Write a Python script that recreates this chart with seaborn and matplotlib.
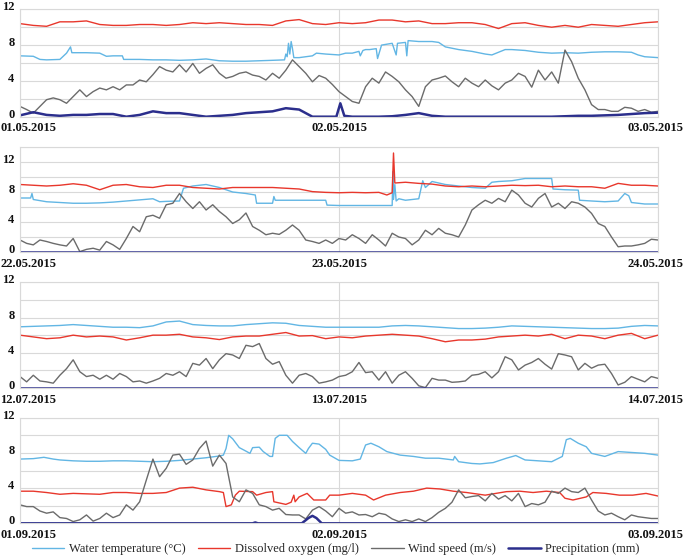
import numpy as np
import matplotlib
matplotlib.use('Agg')
import matplotlib.pyplot as plt
import matplotlib.transforms as mtransforms
from matplotlib.lines import Line2D
import seaborn as sns

# --- datos (horas desde el inicio de cada periodo) ---
dates1 = ['01.05.2015', '02.05.2015', '03.05.2015']
dates2 = ['22.05.2015', '23.05.2015', '24.05.2015']
dates3 = ['12.07.2015', '13.07.2015', '14.07.2015']
dates4 = ['01.09.2015', '02.09.2015', '03.09.2015']

# periodo 1
temp1_h = [0, 1, 1.5, 2, 3, 3.5, 3.8, 3.9, 5, 6, 6.5, 7, 7.7, 7.8, 9, 10, 11, 12, 13, 14,
           15, 16, 17, 18, 19, 19.9, 20.0, 20.1, 20.2, 20.3, 20.4, 20.5, 20.6, 21, 22, 22.3, 23, 24, 24.5, 25,
           25.5, 25.6, 25.8, 26, 26.3, 26.8, 26.9, 27.2, 28, 28.3, 28.4, 29, 29.1, 29.2, 30, 31, 31.5, 32, 33, 34,
           35, 35.5, 36, 36.5, 37, 38, 39, 40, 41, 42, 43, 44, 45, 46, 46.5, 47, 48]
temp1_v = [6.8, 6.75, 6.4, 6.35, 6.4, 7.1, 7.8, 7.15, 7.15, 7.1, 6.75, 6.8, 6.8, 6.4, 6.4, 6.35, 6.35, 6.3, 6.35, 6.45,
           6.25, 6.2, 6.2, 6.25, 6.3, 6.35, 7.0, 6.7, 8.2, 7.0, 8.4, 7.6, 6.6, 6.6, 6.8, 7.1, 7.0, 6.9, 7.1, 7.1,
           7.3, 6.8, 7.4, 7.5, 7.5, 7.6, 6.5, 8.0, 8.2, 6.9, 8.2, 8.3, 6.8, 8.5, 8.4, 8.4, 8.3, 7.8, 7.5, 7.3,
           7.0, 6.9, 7.2, 7.5, 7.5, 7.4, 7.2, 7.1, 7.15, 7.1, 7.2, 7.25, 7.25, 7.2, 6.9, 6.7, 6.6]
oxy1 = [10.4, 10.2, 10.1, 10.6, 10.6, 10.7, 10.3, 10.2, 10.2, 10.3, 10.3, 10.2, 10.3, 10.5, 10.4, 10.5, 10.4,
        10.3, 10.3, 10.2, 10.7, 10.85, 10.4, 10.3, 10.5, 10.4, 10.5, 10.8, 10.8, 10.6, 10.7, 10.4, 10.4, 10.5,
        10.5, 10.3, 9.85, 10.4, 10.5, 10.2, 10.0, 10.2, 10.0, 10.3, 10.2, 10.1, 10.3, 10.5, 10.6]
wind1 = [1.15, 0.8, 0.4, 1.15, 1.9, 2.1, 1.9, 1.5, 2.25, 3.0, 2.25, 2.8, 3.2, 3.0, 3.35, 3.0, 3.55, 3.55, 4.1, 3.9,
         4.7, 5.6, 5.2, 5.0, 5.8, 5.0, 5.95, 4.85, 5.4, 5.8, 4.85, 4.3, 4.5, 4.85, 5.0, 4.65, 4.5, 4.1, 4.85, 4.3,
         5.2, 6.35, 5.6, 4.85, 3.9, 4.6, 4.3, 3.6, 2.8,
         2.25, 1.7, 1.5, 3.35, 4.3, 3.75, 5.0, 4.5, 3.9, 3.0, 2.25, 1.15, 3.35, 4.1, 4.3, 4.55, 3.9, 3.35, 4.3,
         3.75, 3.35, 4.1, 3.45, 3.0, 3.75, 4.1, 4.85, 4.5, 3.3, 5.2, 4.1, 5.0, 3.75, 7.45, 6.15, 4.3, 3.0, 1.35,
         0.8, 0.8, 0.6, 0.6, 1.05, 0.95, 0.6, 0.8, 0.5, 0.6]
rain1_h = [0, 1, 2, 3, 4, 5, 6, 7, 8, 9, 10, 11, 12, 13, 14, 15, 16, 17, 18, 19, 20, 21, 22, 23,
           23.8, 24.1, 24.4,
           25, 26, 27, 28, 29, 30, 31, 32, 33, 34, 35, 36, 37, 38, 39, 40, 41, 42, 43, 44, 45, 46, 47, 48]
rain1_v = [0.15, 0.5, 0.2, 0.1, 0.2, 0.2, 0.3, 0.3, 0.0, 0.2, 0.6, 0.4, 0.4, 0.2, 0.0, 0.1, 0.2, 0.4, 0.5, 0.6,
           0.95, 0.8, 0.0, 0.0,
           0.0, 1.5, 0.1,
           0.0, 0.0, 0.0, 0.05, 0.2, 0.4, 0.1, 0.0, 0.0, 0.0, 0.0, 0.0, 0.0, 0.0, 0.0, 0.0, 0.05, 0.1, 0.1, 0.15,
           0.2, 0.3, 0.4, 0.45]

# periodo 2
temp2_h = [0, 0.8, 0.9, 1, 2, 3, 4, 5, 6, 7, 8, 9, 10, 10.5, 11, 12, 12.3, 13, 14, 15,
           16, 17, 17.7, 17.8, 19, 19.1, 19.2, 20, 21, 22, 23, 23.1, 24, 25, 26, 27, 28, 28.05, 28.1, 28.2,
           28.3, 28.5, 29, 29.5, 30, 30.3, 30.5, 31, 32, 33, 34, 35, 35.5, 36, 37, 38, 39, 40, 40.1, 41,
           42, 42.1, 43, 44, 45, 45.5, 45.8, 46, 47, 48]
temp2_v = [7.2, 7.2, 7.8, 7.0, 6.7, 6.6, 6.5, 6.5, 6.55, 6.65, 6.8, 6.95, 7.1, 6.7, 6.75, 6.8, 8.5, 8.8, 9.0, 8.6,
           8.0, 7.8, 7.6, 6.5, 6.5, 7.4, 6.9, 6.9, 6.9, 6.9, 6.9, 6.25, 6.2, 6.2, 6.2, 6.2, 6.2, 10.7, 7.0, 9.0,
           6.8, 7.1, 6.9, 7.0, 7.1, 9.5, 8.6, 9.4, 9.0, 8.8, 8.6, 8.5, 9.3, 9.4, 9.5, 9.8, 9.8, 9.8, 8.4, 8.3,
           8.25, 6.9, 6.8, 6.7, 6.8, 7.8, 7.5, 6.6, 6.4, 6.4]
oxy2_h = [0, 1, 2, 3, 4, 5, 6, 7, 8, 9, 10, 11, 12, 13, 14, 15, 16, 17, 18, 19, 20, 21, 22, 23, 24, 25, 26, 27,
          27.6, 28, 28.1, 28.2,
          29, 30, 31, 32, 33, 34, 35, 36, 37, 38, 39, 40, 41, 42, 43, 44, 45, 46, 47, 48]
oxy2_v = [9.0, 8.9, 8.8, 8.9, 9.1, 8.9, 8.3, 8.9, 9.0, 8.7, 8.6, 8.9, 8.9, 8.6, 8.5, 8.4, 8.6, 8.6, 8.6, 8.6,
          8.5, 8.4, 8.05, 7.95, 7.9, 7.95, 7.9, 7.95,
          7.6, 7.9, 13.2, 9.2,
          9.3, 9.15, 9.05, 8.8, 8.7, 8.8, 8.7, 8.8, 8.9, 8.85, 8.9, 8.7, 8.8, 8.7, 8.7, 8.5, 9.15, 8.9, 8.9, 8.8]
wind2 = [1.6, 1.15, 0.95, 1.6, 1.4, 1.15, 0.95, 0.8, 1.8, 0.05, 0.35, 0.5, 0.25, 1.4, 0.95, 0.35, 1.8, 3.4,
         2.7, 4.7, 4.9, 4.5, 6.3, 6.5, 7.8, 6.7, 5.8, 6.7, 5.6, 6.3, 5.4, 4.7, 3.8, 4.3, 5.2, 3.4, 2.9, 2.3,
         2.5, 2.35, 2.9, 3.6, 2.9, 1.6, 1.4, 1.15, 1.6, 1.15, 1.8,
         1.6, 2.3, 1.8, 1.15, 2.3, 1.6, 0.8, 2.5, 2.0, 1.8, 0.95, 1.6, 2.9, 2.3, 3.15, 2.5, 2.3, 2.0, 3.6, 5.6,
         6.3, 6.9, 6.5, 7.15, 6.7, 8.25, 7.6, 6.5, 6.0, 7.15, 7.8, 6.0, 6.5, 5.8, 6.7, 6.5, 6.0, 5.15, 3.8,
         3.4, 2.0, 0.7, 0.8, 0.8, 0.95, 1.15, 1.7, 1.6]
rain2_h = [0, 48]
rain2_v = [0.0, 0.0]

# periodo 3
temp3 = [6.95, 7.0, 7.05, 7.1, 7.2, 7.1, 7.0, 6.9, 6.9, 6.85, 7.05, 7.5, 7.6, 7.2, 7.1, 7.05, 7.05, 7.2,
         7.3, 7.4, 7.35, 7.1, 7.0, 6.9, 6.9, 6.9, 6.9, 6.9, 7.05, 7.1, 7.05, 6.95, 6.85, 6.75, 6.75, 6.8,
         6.9, 7.05, 7.0, 6.95, 6.9, 6.85, 6.8, 6.75, 6.75, 6.8, 7.0, 7.1, 7.05]
oxy3 = [6.0, 5.8, 5.6, 5.7, 6.0, 5.8, 5.9, 5.8, 5.45, 5.7, 6.0, 6.0, 6.1, 5.8, 5.7, 5.5, 5.8, 5.9, 5.9, 6.1,
        6.3, 5.9, 5.95, 5.6, 5.8, 5.7, 5.9, 6.0, 6.1, 6.0, 5.9, 5.6, 5.25, 5.45, 5.45, 5.55, 5.8, 5.9, 6.0,
        5.9, 6.1, 5.6, 6.0, 5.9, 5.6, 6.0, 6.2, 5.6, 6.0]
wind3 = [1.3, 0.7, 1.45, 0.8, 0.7, 0.55, 1.45, 2.2, 3.2, 1.85, 1.3, 1.45, 1.0, 1.45, 1.0, 1.65, 1.3, 0.7,
         0.8, 0.55, 0.8, 1.1, 1.65, 1.45, 1.85, 1.3, 2.8, 2.6, 3.35, 2.2, 3.2, 3.9, 3.75, 3.35, 4.85, 4.7,
         5.05, 3.35, 2.7, 3.0, 1.45, 0.55, 1.45, 1.65, 1.3, 0.55, 0.7, 0.9, 1.3,
         1.45, 1.85, 2.9, 1.75, 1.85, 0.9, 1.85, 0.55, 1.45, 1.85, 1.1, 0.25, 0.05, 1.1, 0.9, 0.9, 0.65, 0.7,
         0.8, 1.45, 1.55, 1.85, 1.15, 1.85, 3.55, 3.2, 2.05, 2.6, 2.9, 3.35, 2.7, 2.15, 3.9, 3.75, 3.55, 2.05,
         2.8, 2.25, 2.6, 2.7, 1.65, 0.35, 0.65, 1.3, 1.0, 0.7, 1.3, 1.1]
rain3_h = [0, 48]
rain3_v = [0.0, 0.0]

# periodo 4
temp4_h = [0, 1, 1.8, 2.5, 3, 4, 5, 6, 7, 8, 9, 10, 11, 12, 13, 14, 15, 15.3, 15.5, 15.7,
           16, 16.5, 17, 17.3, 17.5, 18, 18.3, 18.8, 19, 19.2, 19.5, 20.1, 20.5, 21, 21.5, 21.7, 22, 22.5, 23, 23.3,
           24, 25, 25.6, 26, 26.4, 27, 27.6, 28.6, 29.6, 30.5, 31.5, 32.6, 32.7, 33, 34, 34.6, 35.6, 36.6, 37.3, 38,
           39, 40, 40.8, 41.1, 41.4, 42, 42.6, 43, 44, 45, 46, 47, 48]
temp4_v = [7.3, 7.35, 7.5, 7.3, 7.2, 7.1, 7.05, 7.05, 7.1, 7.1, 7.05, 7.0, 7.05, 7.15, 7.3, 7.45, 7.65, 7.75, 8.5, 10.0,
           9.6, 8.6, 8.2, 7.95, 8.6, 8.65, 8.15, 7.6, 7.6, 9.65, 10.0, 10.0, 9.3, 8.6, 7.95, 8.5, 9.1, 9.0, 8.4, 7.75,
           7.15, 7.1, 7.3, 8.9, 9.1, 8.7, 8.15, 7.75, 7.6, 7.4, 7.4, 7.2, 7.6, 7.0, 6.8, 6.75, 6.9, 7.4, 7.7, 7.2,
           7.1, 7.0, 7.6, 9.5, 9.65, 9.1, 8.7, 7.95, 7.6, 8.15, 8.05, 7.95, 7.75]
oxy4_h = [0, 1, 2, 3, 4, 5, 6, 7, 8, 9, 10, 11, 12, 13, 14, 15,
          15.3, 15.5, 15.9, 16.2, 16.5, 17.5, 17.8, 18.5, 19, 19.1, 20, 20.4, 20.6, 20.7, 21, 21.6, 22.1, 23, 23.3,
          24, 25, 26, 26.6, 27.5, 28.6, 29.6, 30.6, 31.6, 32.6, 33.6, 35, 35.8, 36.6, 37.6, 38.6, 39.6, 40.6,
          41, 41.6, 42.6, 43.1, 44.1, 45.1, 46.1, 47.1, 48]
oxy4_v = [3.65, 3.65, 3.5, 3.3, 3.4, 3.35, 3.3, 3.5, 3.5, 3.4, 3.4, 3.5, 4.0, 4.1, 3.8, 3.6,
          3.5, 1.9, 2.1, 3.2, 3.65, 3.6, 3.2, 3.5, 3.6, 2.45, 2.15, 2.4, 3.2, 2.45, 3.0, 3.4, 2.65, 2.65, 3.2,
          3.2, 3.4, 3.2, 2.65, 3.2, 3.5, 3.65, 4.0, 3.9, 3.65, 3.5, 3.2, 3.4, 3.6, 3.65, 3.5, 3.65, 3.5,
          2.85, 2.65, 3.0, 3.5, 3.4, 3.2, 3.2, 3.4, 3.1]
wind4 = [2.1, 1.9, 1.9, 1.4, 1.15, 1.3, 0.65, 0.55, 0.2, 0.4, 0.95, 0.25, 0.55, 1.15, 0.65, 0.95, 2.1, 1.5,
         2.45, 4.9, 7.3, 5.3, 6.25, 7.75, 7.85, 6.7, 7.2, 8.5, 9.35, 6.5, 7.75, 6.8, 3.0, 2.45, 3.8, 3.4, 2.1,
         1.9, 1.5, 1.7, 1.0, 0.95, 0.95, 0.5, 1.5, 1.9, 1.4, 0.75, 1.7, 1.15, 1.3, 0.95, 1.0, 0.75, 1.15, 1.0,
         0.5, 0.2,
         0.4, 0.2, 0.5, 0.2, 0.65, 1.25, 1.7, 2.4, 3.8, 2.9, 3.05, 3.15, 2.55, 3.4, 2.75, 3.15, 2.55, 3.4, 1.9,
         2.25, 2.1, 2.4, 3.65, 3.4, 4.0, 3.6, 3.5, 4.0, 2.65, 1.4, 0.95, 1.15, 0.75, 0.4, 0.95, 0.75, 0.65,
         0.55, 0.55]
rain4_h = [0, 17.5, 17.7, 17.9, 21.2, 21.7, 22.0, 22.3, 22.7, 48]
rain4_v = [0.0, 0.0, 0.1, 0.0, 0.0, 0.6, 0.85, 0.6, 0.0, 0.0]

labels = ['Water temperature (°C)', 'Dissolved oxygen (mg/l)', 'Wind speed (m/s)', 'Precipitation (mm)']
colors = ['#62b6e4', '#e8372c', '#6b6b6b', '#2b2e8c']
widths = [1.0, 1.0, 1.0, 1.8]


def half_hours(vals):
    # series registradas a intervalos regulares sobre 48 h
    return np.linspace(0, 48, len(vals))


panels = [
    (dates1, 12, [(temp1_h, temp1_v), (half_hours(oxy1), oxy1), (half_hours(wind1), wind1), (rain1_h, rain1_v)]),
    (dates2, 14, [(temp2_h, temp2_v), (oxy2_h, oxy2_v), (half_hours(wind2), wind2), (rain2_h, rain2_v)]),
    (dates3, 12, [(half_hours(temp3), temp3), (half_hours(oxy3), oxy3), (half_hours(wind3), wind3), (rain3_h, rain3_v)]),
    (dates4, 12, [(temp4_h, temp4_v), (oxy4_h, oxy4_v), (half_hours(wind4), wind4), (rain4_h, rain4_v)]),
]

# posiciones de los ejes (fraccion de la figura)
boxes = [
    [0.0292, 0.7916, 0.9314, 0.1918],
    [0.0292, 0.5500, 0.9314, 0.1875],
    [0.0292, 0.3071, 0.9314, 0.1888],
    [0.0292, 0.0655, 0.9314, 0.1886],
]

sns.set_theme(style='white')
plt.rcParams['font.family'] = ['Liberation Serif', 'DejaVu Serif']

fig = plt.figure(figsize=(6.85, 5.6), dpi=100)
grid_col = '#d9d9d9'

for (dates, ymax, series), box in zip(panels, boxes):
    ax = fig.add_axes(box)
    for (x, y), c, lw in zip(series, colors, widths):
        sns.lineplot(x=x, y=y, ax=ax, color=c, linewidth=lw, estimator=None, errorbar=None, legend=False)

    ax.set_xlim(0, 48)
    ax.set_ylim(0, ymax)
    ax.set_xlabel('')
    ax.set_ylabel('')
    ax.set_yticks(np.arange(0, ymax + 1, 2))
    ax.set_yticklabels([str(v) if v % 4 == 0 else '' for v in range(0, ymax + 1, 2)], fontweight='bold')
    ax.set_xticks([0, 24, 48])
    ax.set_xticklabels(dates, fontweight='bold')
    ax.grid(True, color=grid_col, linewidth=0.8)
    ax.set_axisbelow(True)
    for sp in ax.spines.values():
        sp.set_color(grid_col)
        sp.set_linewidth(0.8)
    ax.tick_params(axis='both', length=0, labelsize=9, colors='#111111')
    ax.tick_params(axis='x', pad=4)
    ax.tick_params(axis='y', pad=4)

    # las etiquetas del eje y quedan algo por encima de su linea
    up = mtransforms.ScaledTranslation(0, 0.035, fig.dpi_scale_trans)
    for lab in ax.get_yticklabels():
        lab.set_transform(lab.get_transform() + up)

    xl = ax.get_xticklabels()
    xl[0].set_ha('left')
    xl[0].set_transform(xl[0].get_transform() + mtransforms.ScaledTranslation(-0.20, 0, fig.dpi_scale_trans))
    xl[-1].set_ha('right')
    xl[-1].set_transform(xl[-1].get_transform() + mtransforms.ScaledTranslation(0.25, 0, fig.dpi_scale_trans))

handles = [Line2D([0], [0], color=c, linewidth=lw) for c, lw in zip(colors, widths)]
fig.legend(handles, labels, loc='lower center', bbox_to_anchor=(0.49, -0.012), ncol=4, frameon=False,
           fontsize=9, handlelength=2.6, handletextpad=0.35, columnspacing=1.0)

fig.savefig('out.png', dpi=100)
